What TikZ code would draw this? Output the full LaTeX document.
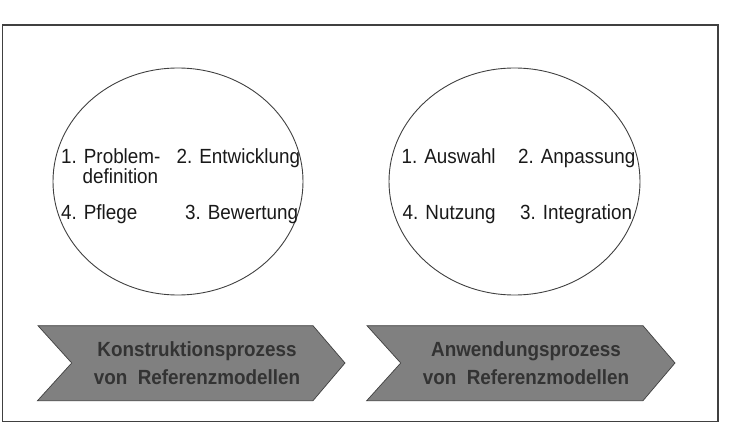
\documentclass[tikz,border=0pt]{standalone}
\usepackage{fontspec}
\usetikzlibrary{shapes.geometric}
\setmainfont{Liberation Sans}
\newfontfamily\labfont[FakeStretch=0.92]{Liberation Sans}
\definecolor{chevfill}{HTML}{808080}
\definecolor{chevtext}{HTML}{333333}
\definecolor{linegray}{HTML}{404040}
\begin{document}
\begin{tikzpicture}[x=1pt,y=-1pt,
  frame/.style={draw=linegray,line width=1.1pt},
  phase/.style={draw=linegray,line width=0.9pt},
  steplabel/.style={inner sep=0pt,anchor=base west,text=black!90,font=\labfont\fontsize{20.5}{24}\selectfont},
  chev/.style={draw=linegray,line width=0.7pt,fill=chevfill},
  chevlabel/.style={inner sep=0pt,align=center,text=chevtext,font=\labfont\bfseries\fontsize{20.5}{27.5}\selectfont}]
\useasboundingbox (0,0) rectangle (733,430);
\draw[frame] (2.5,25) rectangle (718,421.5);
% ellipses
\node[phase,ellipse,minimum width=250pt,minimum height=227pt,inner sep=0pt] (e1) at (178,181.5) {};
\node[phase,ellipse,minimum width=251pt,minimum height=227pt,inner sep=0pt] (e2) at (514.5,181.5) {};
% left ellipse texts
\node[steplabel] (s1a) at (61,164) {1. Problem-};
\node[steplabel] (s1b) at (82.5,184) {definition};
\node[steplabel] (s2) at (176.5,164) {2. Entwicklung};
\node[steplabel] (s4) at (61,220) {4. Pflege};
\node[steplabel] (s3) at (185,220) {3. Bewertung};
% right ellipse texts
\node[steplabel] (t1) at (401.5,164) {1. Auswahl};
\node[steplabel] (t2) at (518,164) {2. Anpassung};
\node[steplabel] (t4) at (402.5,220) {4. Nutzung};
\node[steplabel] (t3) at (520,220) {3. Integration};
% chevrons
\draw[chev] (38,325.7) -- (313,325.7) -- (345,363) -- (313,400.7) -- (37.5,400.7) -- (71.7,363) -- cycle;
\draw[chev] (367,325.7) -- (643,325.7) -- (675,363) -- (643,400.7) -- (366.7,400.7) -- (400.7,363) -- cycle;
\node[chevlabel,anchor=base] (c1) at (197,384.2) {Konstruktionsprozess\\von\ \ Referenzmodellen};
\node[chevlabel,anchor=base] (c2) at (526,384.2) {Anwendungsprozess\\von\ \ Referenzmodellen};
\end{tikzpicture}
\end{document}
